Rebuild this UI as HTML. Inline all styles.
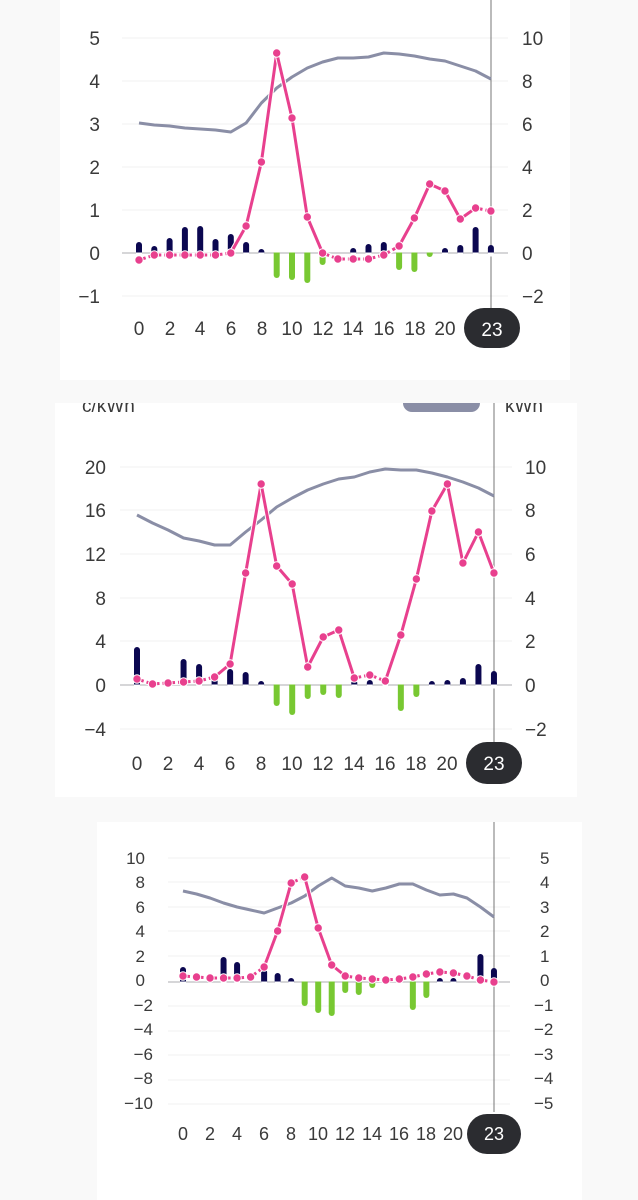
<!DOCTYPE html>
<html><head><meta charset="utf-8"><style>
html,body{margin:0;padding:0;background:#f9f9f9;}
svg{display:block;}
text{font-family:"Liberation Sans",sans-serif;fill:#3a3a3a;}
</style></head><body>
<svg id="s" width="638" height="1200" viewBox="0 0 638 1200" xmlns="http://www.w3.org/2000/svg">
<rect x="0" y="0" width="638" height="1200" fill="#f9f9f9"/>
<rect x="60" y="0" width="510" height="380" fill="#fff"/>
<rect x="55" y="395" width="522" height="402" fill="#fff"/>
<rect x="97" y="822" width="485" height="378" fill="#fff"/>
<g id="g1"></g><g id="g2"></g><g id="g3"></g>
<!-- panel 1 labels -->
<g font-size="19" text-anchor="end">
<text x="100" y="45">5</text><text x="100" y="88">4</text><text x="100" y="131">3</text><text x="100" y="174">2</text><text x="100" y="217">1</text><text x="100" y="260">0</text><text x="100" y="303">−1</text>
</g>
<g font-size="19" text-anchor="start">
<text x="522" y="45">10</text><text x="522" y="88">8</text><text x="522" y="131">6</text><text x="522" y="174">4</text><text x="522" y="217">2</text><text x="522" y="260">0</text><text x="522" y="303">−2</text>
</g>
<g font-size="19" text-anchor="middle">
<text x="139" y="335">0</text><text x="170" y="335">2</text><text x="200" y="335">4</text><text x="231" y="335">6</text><text x="262" y="335">8</text><text x="292" y="335">10</text><text x="323" y="335">12</text><text x="353" y="335">14</text><text x="384" y="335">16</text><text x="415" y="335">18</text><text x="445" y="335">20</text>
</g>
<!-- panel 2 labels -->
<text x="82" y="412" font-size="19">c/kWh</text>
<text x="505" y="412" font-size="19">kWh</text>
<rect x="403" y="393" width="77" height="19" rx="9" fill="#8a8ea6"/>
<rect x="0" y="380" width="638" height="23" fill="#f9f9f9"/>
<g font-size="19" text-anchor="end">
<text x="106" y="474">20</text><text x="106" y="517">16</text><text x="106" y="561">12</text><text x="106" y="605">8</text><text x="106" y="648">4</text><text x="106" y="692">0</text><text x="106" y="736">−4</text>
</g>
<g font-size="19" text-anchor="start">
<text x="525" y="474">10</text><text x="525" y="517">8</text><text x="525" y="561">6</text><text x="525" y="605">4</text><text x="525" y="648">2</text><text x="525" y="692">0</text><text x="525" y="736">−2</text>
</g>
<g font-size="19" text-anchor="middle">
<text x="137" y="770">0</text><text x="168" y="770">2</text><text x="199" y="770">4</text><text x="230" y="770">6</text><text x="261" y="770">8</text><text x="292" y="770">10</text><text x="323" y="770">12</text><text x="354" y="770">14</text><text x="385" y="770">16</text><text x="416" y="770">18</text><text x="447" y="770">20</text>
</g>
<!-- panel 3 labels -->
<g font-size="17" text-anchor="end">
<text x="145" y="864">10</text><text x="145" y="888">8</text><text x="145" y="913">6</text><text x="145" y="937">4</text><text x="145" y="962">2</text><text x="145" y="986">0</text><text x="153" y="1011">−2</text><text x="153" y="1035">−4</text><text x="153" y="1060">−6</text><text x="153" y="1084">−8</text><text x="153" y="1109">−10</text>
</g>
<g font-size="17" text-anchor="start">
<text x="540" y="864">5</text><text x="540" y="888">4</text><text x="540" y="913">3</text><text x="540" y="937">2</text><text x="540" y="962">1</text><text x="540" y="986">0</text><text x="534" y="1011">−1</text><text x="534" y="1035">−2</text><text x="534" y="1060">−3</text><text x="534" y="1084">−4</text><text x="534" y="1109">−5</text>
</g>
<g font-size="18" text-anchor="middle">
<text x="183" y="1140">0</text><text x="210" y="1140">2</text><text x="237" y="1140">4</text><text x="264" y="1140">6</text><text x="291" y="1140">8</text><text x="318" y="1140">10</text><text x="345" y="1140">12</text><text x="372" y="1140">14</text><text x="399" y="1140">16</text><text x="426" y="1140">18</text><text x="453" y="1140">20</text>
</g>
<!-- badges -->
<rect x="464" y="308" width="56" height="40" rx="20" fill="#2b2c30"/>
<text x="492" y="336" font-size="19" text-anchor="middle" style="fill:#fff">23</text>
<rect x="466" y="742" width="56" height="42" rx="21" fill="#2b2c30"/>
<text x="494" y="770" font-size="19" text-anchor="middle" style="fill:#fff">23</text>
<rect x="467" y="1114" width="54" height="40" rx="20" fill="#2b2c30"/>
<text x="494" y="1140" font-size="18" text-anchor="middle" style="fill:#fff">23</text>
</svg>
<script>
var NS="http://www.w3.org/2000/svg";
function el(g,t,a){var e=document.createElementNS(NS,t);for(var k in a)e.setAttribute(k,a[k]);g.appendChild(e);return e;}
function draw(id,c){
 var g=document.getElementById(id);
 c.grid.forEach(function(y){el(g,"line",{x1:c.gx0,x2:c.gx1,y1:y,y2:y,stroke:y==c.zero?"#c8c8cc":"#f0f0f0","stroke-width":y==c.zero?1.5:1});});
 el(g,"line",{x1:c.vx,x2:c.vx,y1:c.vy0,y2:c.vy1,stroke:"#777","stroke-width":1});
 var X=function(i){return c.x0+c.dx*i;};
 c.bars.forEach(function(b,i){ if(b==null)return; var top=b; if(Math.abs(top-c.zero)<1)top=c.zero+(top<=c.zero?-1:1);
  var col=top<c.zero?"#0b0750":"#78c832";
  el(g,"line",{x1:X(i),x2:X(i),y1:c.zero,y2:top,stroke:col,"stroke-width":6,"stroke-linecap":"round"});
  if(top<c.zero) el(g,"rect",{x:X(i)-3,y:c.zero-0.5,width:6,height:4,fill:"#fff"});
  else el(g,"rect",{x:X(i)-3,y:c.zero-3.5,width:6,height:3,fill:"#fff"});
 });
 var d=c.gray.map(function(y,i){return (i?"L":"M")+X(i)+","+y;}).join("");
 el(g,"path",{d:d,fill:"none",stroke:"#8a8ea6","stroke-width":3,"stroke-linejoin":"round"});
 for(var i=0;i<c.pink.length-1;i++){
  var a={x1:X(i),y1:c.pink[i],x2:X(i+1),y2:c.pink[i+1],"stroke-width":3,"stroke-linecap":"round"};
  el(g,"line",Object.assign({},a,{stroke:"#fff","stroke-width":5}));
  if(c.dash[i]) el(g,"line",Object.assign({},a,{stroke:"#e8408e","stroke-dasharray":"7 3","stroke-linecap":"butt"}));
  else el(g,"line",Object.assign({},a,{stroke:"#e8408e"}));
 }
 c.pink.forEach(function(y,i){el(g,"circle",{cx:X(i),cy:y,r:4.2,fill:"#e8408e",stroke:"#fff","stroke-width":1});});
}
function dashes(list,n){var a=[];for(var i=0;i<n;i++)a.push(list.indexOf(i)>=0);return a;}
draw("g1",{gx0:122,gx1:508,zero:253,grid:[38,81,124,167,210,253,296],vx:491,vy0:0,vy1:310,x0:139,dx:15.3,
 pink:[260,255,255,255,255,255,253,226,162,53,118,217,253,259,259,259,255,246,218,184,191,219,208,211],
 gray:[123,125,126,128,129,130,132,123,103,88,77,68,62,58,58,57,53,54,56,59,61,66,71,79],
 bars:[245,249,241,230,229,242,237,245,252,275,277,280,262,null,251,247,245,267,269,254,251,248,230,248],
 dash:dashes([0,1,2,3,4,5,12,13,14,15,16,22],23)});
draw("g2",{gx0:120,gx1:512,zero:685,grid:[467,510,554,598,641,685,729],vx:494,vy0:403,vy1:745,x0:137,dx:15.52,
 pink:[679,684,683,682,681,677,664,573,484,566,584,667,637,630,678,675,681,635,579,511,484,563,532,573],
 gray:[515,523,530,538,541,545,545,532,520,507,498,490,484,479,477,472,469,470,470,473,477,482,488,496],
 bars:[650,null,null,662,667,680,672,675,684,703,712,696,692,695,683,683,684,708,694,684,683,681,667,674],
 dash:dashes([0,1,2,3,4,14,15],23)});
draw("g3",{gx0:168,gx1:510,zero:982,grid:[858,882,907,931,956,982,1006,1031,1055,1080,1104],vx:494,vy0:822,vy1:1112,x0:183,dx:13.52,
 pink:[976,977,978,978,978,977,967,931,883,877,928,965,976,978,979,980,979,977,974,972,973,976,980,982],
 gray:[891,894,898,903,907,910,913,908,903,896,886,878,886,888,891,888,884,884,890,895,894,898,907,917],
 bars:[970,null,null,960,965,null,972,976,981,1003,1010,1013,990,992,985,981,null,1007,995,981,981,null,957,971],
 dash:dashes([0,1,2,3,4,5,8,12,13,14,15,16,17,18,19,20,21,22],23)});
</script>
</body></html>
